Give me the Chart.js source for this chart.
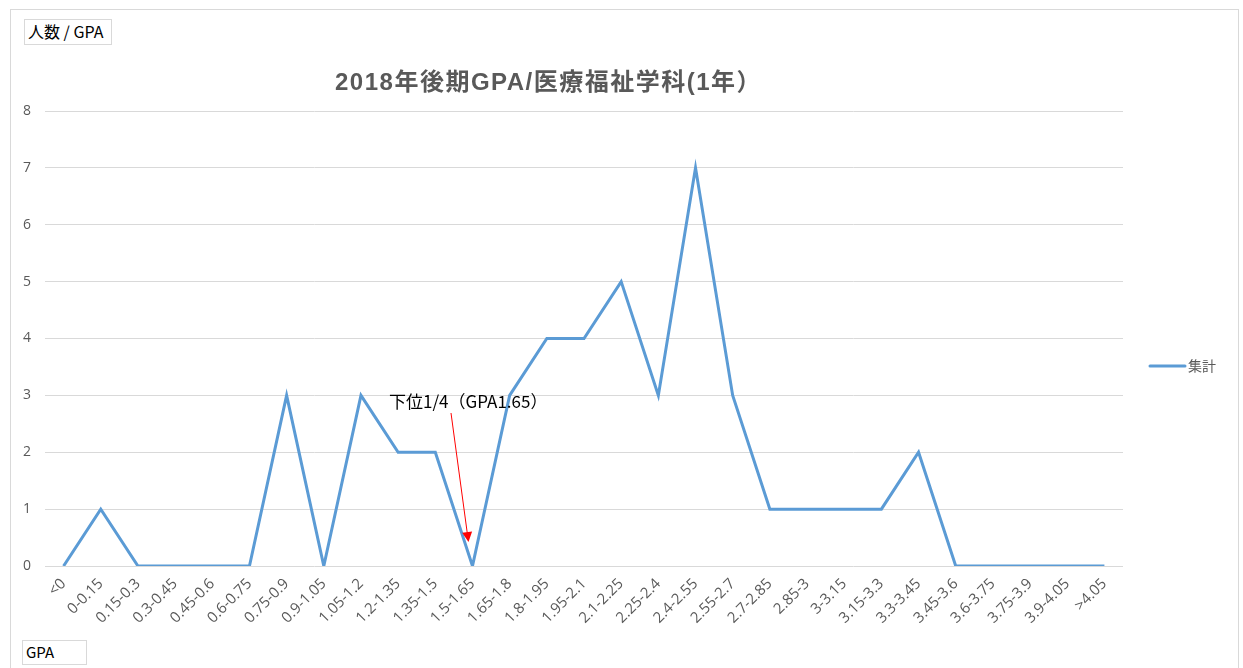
<!DOCTYPE html>
<html>
<head>
<meta charset="utf-8">
<script src="https://cdn.jsdelivr.net/npm/chart.js@4"></script>
<style>
  html, body { margin: 0; padding: 0; background: #fff; }
  #wrap { position: relative; width: 1243px; height: 668px; overflow: hidden; }
  #frame { position: absolute; left: 10px; top: 9px; width: 1229px; height: 700px; border: 1px solid #d9d9d9; box-sizing: border-box; }
  .box { position: absolute; border: 1px solid #d9d9d9; background: #fff; font: 15px "Noto Sans CJK JP", "Noto Sans", sans-serif; color: #000; line-height: 22px; padding-left: 3px; box-sizing: border-box; }
  canvas { position: absolute; left: 0; top: 0; }
</style>
</head>
<body>
<div id="wrap">
  <div id="frame"></div>
  <canvas id="chart" width="1243" height="668"></canvas>
  <div class="box" style="left:24px; top:19px; width:88px; height:26px; font-size:16px;">人数 / GPA</div>
  <div class="box" style="left:22px; top:640px; width:65px; height:25px;">GPA</div>
</div>
<script>
// --- DATA ---
const categories = ['<0', '0-0.15', '0.15-0.3', '0.3-0.45', '0.45-0.6', '0.6-0.75', '0.75-0.9', '0.9-1.05',
  '1.05-1.2', '1.2-1.35', '1.35-1.5', '1.5-1.65', '1.65-1.8', '1.8-1.95', '1.95-2.1', '2.1-2.25',
  '2.25-2.4', '2.4-2.55', '2.55-2.7', '2.7-2.85', '2.85-3', '3-3.15', '3.15-3.3', '3.3-3.45',
  '3.45-3.6', '3.6-3.75', '3.75-3.9', '3.9-4.05', '>4.05'];
const counts = [0, 1, 0, 0, 0, 0, 3, 0, 3, 2, 2, 0, 3, 4, 4, 5, 3, 7, 3, 1, 1, 1, 1, 2, 0, 0, 0, 0, 0];
const yTicks = [0, 1, 2, 3, 4, 5, 6, 7, 8];
const seriesName = '集計';
const chartTitle = '2018年後期GPA/医療福祉学科(1年）';
const noteText = '下位1/4（GPA1.65）';
const noteIndex = 11;

const jp = '"Noto Sans CJK JP", "Noto Sans", sans-serif';
const titleFont = '"Liberation Sans", "Noto Sans CJK JP", sans-serif';
const tickFont = '"Open Sans", "Liberation Sans", sans-serif';
const lineColor = '#5b9bd5';

// --- title, legend, annotation drawn on top ---
const extras = {
    id: 'extras',
    afterDraw(chart) {
        const ctx = chart.ctx;
        const xs = chart.scales.x, ys = chart.scales.y;
        ctx.save();

        // title
        ctx.font = 'bold 24px ' + titleFont;
        ctx.fillStyle = '#595959';
        ctx.textAlign = 'left';
        ctx.textBaseline = 'middle';
        ctx.letterSpacing = '1.5px';
        ctx.fillText(chartTitle, 335, 83);
        ctx.letterSpacing = '0px';

        // legend
        ctx.strokeStyle = lineColor;
        ctx.lineWidth = 3;
        ctx.lineCap = 'round';
        ctx.beginPath();
        ctx.moveTo(1150, 366);
        ctx.lineTo(1185, 366);
        ctx.stroke();
        ctx.font = '14px ' + jp;
        ctx.fillText(seriesName, 1188, 366);

        // annotation
        ctx.font = '17px ' + jp;
        ctx.fillStyle = '#000';
        ctx.fillText(noteText, 389, 402);
        const tipX = xs.getPixelForValue(noteIndex) - 4;
        const tipY = ys.getPixelForValue(0.42);
        const fromX = 451, fromY = 413;
        const ang = Math.atan2(tipY - fromY, tipX - fromX);
        ctx.strokeStyle = '#ff0000';
        ctx.fillStyle = '#ff0000';
        ctx.lineWidth = 1;
        ctx.lineCap = 'butt';
        ctx.beginPath();
        ctx.moveTo(fromX, fromY);
        ctx.lineTo(tipX - 8 * Math.cos(ang), tipY - 8 * Math.sin(ang));
        ctx.stroke();
        ctx.beginPath();
        ctx.moveTo(tipX, tipY);
        ctx.lineTo(tipX - 10 * Math.cos(ang) + 5 * Math.sin(ang), tipY - 10 * Math.sin(ang) - 5 * Math.cos(ang));
        ctx.lineTo(tipX - 10 * Math.cos(ang) - 5 * Math.sin(ang), tipY - 10 * Math.sin(ang) + 5 * Math.cos(ang));
        ctx.closePath();
        ctx.fill();

        ctx.restore();
    }
};

new Chart(document.getElementById('chart'), {
    type: 'line',
    data: {
        labels: categories,
        datasets: [{
            label: seriesName,
            data: counts,
            borderColor: lineColor,
            borderWidth: 3,
            pointRadius: 0,
            tension: 0,
            fill: false,
            borderJoinStyle: 'miter'
        }]
    },
    options: {
        responsive: false,
        animation: false,
        layout: { padding: { left: 10, right: 120, top: 111, bottom: 0 } },
        plugins: {
            legend: { display: false },
            title: { display: false },
            tooltip: { enabled: false }
        },
        scales: {
            x: {
                offset: true,
                grid: { display: false, drawTicks: false },
                border: { display: false },
                ticks: {
                    color: '#595959',
                    font: { family: tickFont, size: 15 },
                    minRotation: 45,
                    maxRotation: 45,
                    autoSkip: false,
                    padding: 9
                },
                afterFit: (s) => { s.height = 102; }
            },
            y: {
                min: 0,
                max: 8,
                afterBuildTicks: (s) => { s.ticks = yTicks.map(v => ({ value: v })); },
                grid: { color: '#d9d9d9', lineWidth: 1, drawTicks: false },
                border: { display: false },
                ticks: {
                    color: '#595959',
                    font: { family: tickFont, size: 14 },
                    padding: 14
                },
                afterFit: (s) => { s.width = 35; }
            }
        }
    },
    plugins: [extras]
});
</script>
</body>
</html>
